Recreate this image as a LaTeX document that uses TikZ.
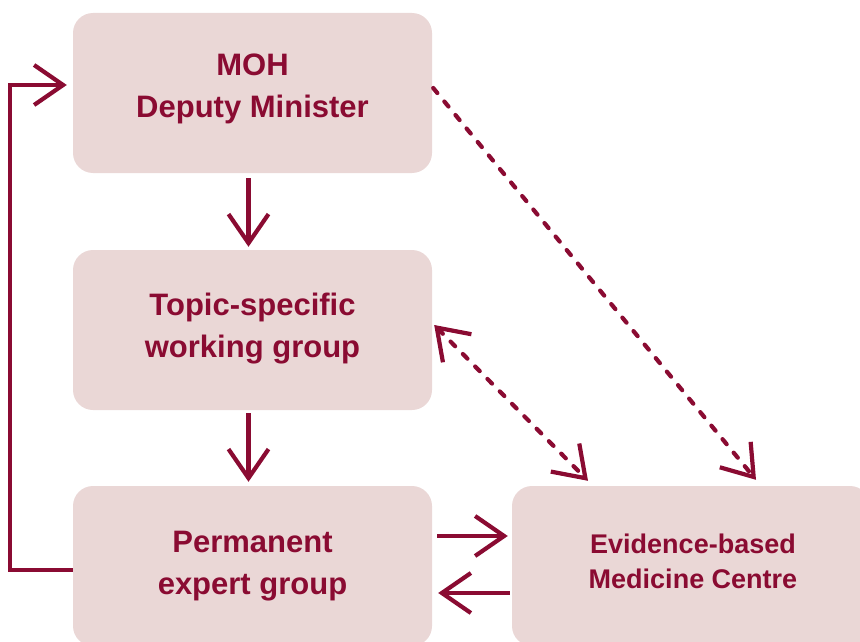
\documentclass[tikz,border=0pt]{standalone}
\usepackage{fontspec}
\setmainfont{Liberation Sans}
\usetikzlibrary{arrows.meta}
\definecolor{boxfill}{HTML}{EAD7D6}
\definecolor{wine}{HTML}{8A0B32}

\begin{document}
\begin{tikzpicture}[x=1pt,y=-1pt,
  box/.style={fill=boxfill, rounded corners=20pt, minimum width=359pt,
    minimum height=160pt, inner sep=0pt},
  boxtext/.style={inner sep=0pt, align=center, text=wine,
    font=\bfseries\fontsize{31}{42}\selectfont},
  smalltext/.style={boxtext, font=\bfseries\fontsize{27}{35}\selectfont},
  link/.style={draw=wine, line width=4.2pt,
    -{Straight Barb[length=29pt,width=40pt]}},
  dashlink/.style={link, dash pattern=on 6.5pt off 11pt, line cap=round}]

\useasboundingbox (0,0) rectangle (860,642);
\clip (0,0) rectangle (860,642);

% boxes
\node[box] (moh)   at (252.5,93)  {};
\node[box] (topic) at (252.5,330) {};
\node[box] (perm)  at (252.5,566) {};
\node[box, minimum width=358pt] (ebm) at (691,566) {};

% box labels
\node[boxtext] (mohtext)   at ([yshift=4pt]moh.center)   {MOH\\Deputy Minister};
\node[boxtext] (topictext) at ([yshift=1pt]topic.center) {Topic-specific\\working group};
\node[boxtext] (permtext)  at (perm.center)              {Permanent\\expert group};
\node[smalltext] (ebmtext) at ([xshift=2pt,yshift=5pt]ebm.center) {Evidence-based\\Medicine Centre};

% chain of command
\draw[link] ([xshift=-4pt,yshift=-5pt]moh.south) -- ([xshift=-4pt,yshift=3pt]topic.north);
\draw[link] ([xshift=-4pt,yshift=-3pt]topic.south) -- ([xshift=-4pt,yshift=4pt]perm.north);

% exchange with the centre
\draw[link] ([xshift=5pt,yshift=30pt]perm.east) -- ([xshift=-4pt,yshift=30pt]ebm.west);
\draw[link] ([xshift=-2pt,yshift=-27pt]ebm.west) -- ([xshift=6pt,yshift=-27pt]perm.east);

% feedback to the ministry
\draw[link] ([yshift=-4pt]perm.west) -- ++(-63,0) |- ([xshift=-6pt,yshift=8pt]moh.west);

% dashed links
\draw[dashlink] ([xshift=1pt,yshift=5pt]moh.east) -- ([xshift=65pt,yshift=6pt]ebm.north);
\draw[dashlink, {Straight Barb[length=29pt,width=40pt]}-{Straight Barb[length=29pt,width=40pt]}]
  ([xshift=2pt,yshift=5pt]topic.east) -- ([xshift=-103pt,yshift=5pt]ebm.north);
\end{tikzpicture}
\end{document}
